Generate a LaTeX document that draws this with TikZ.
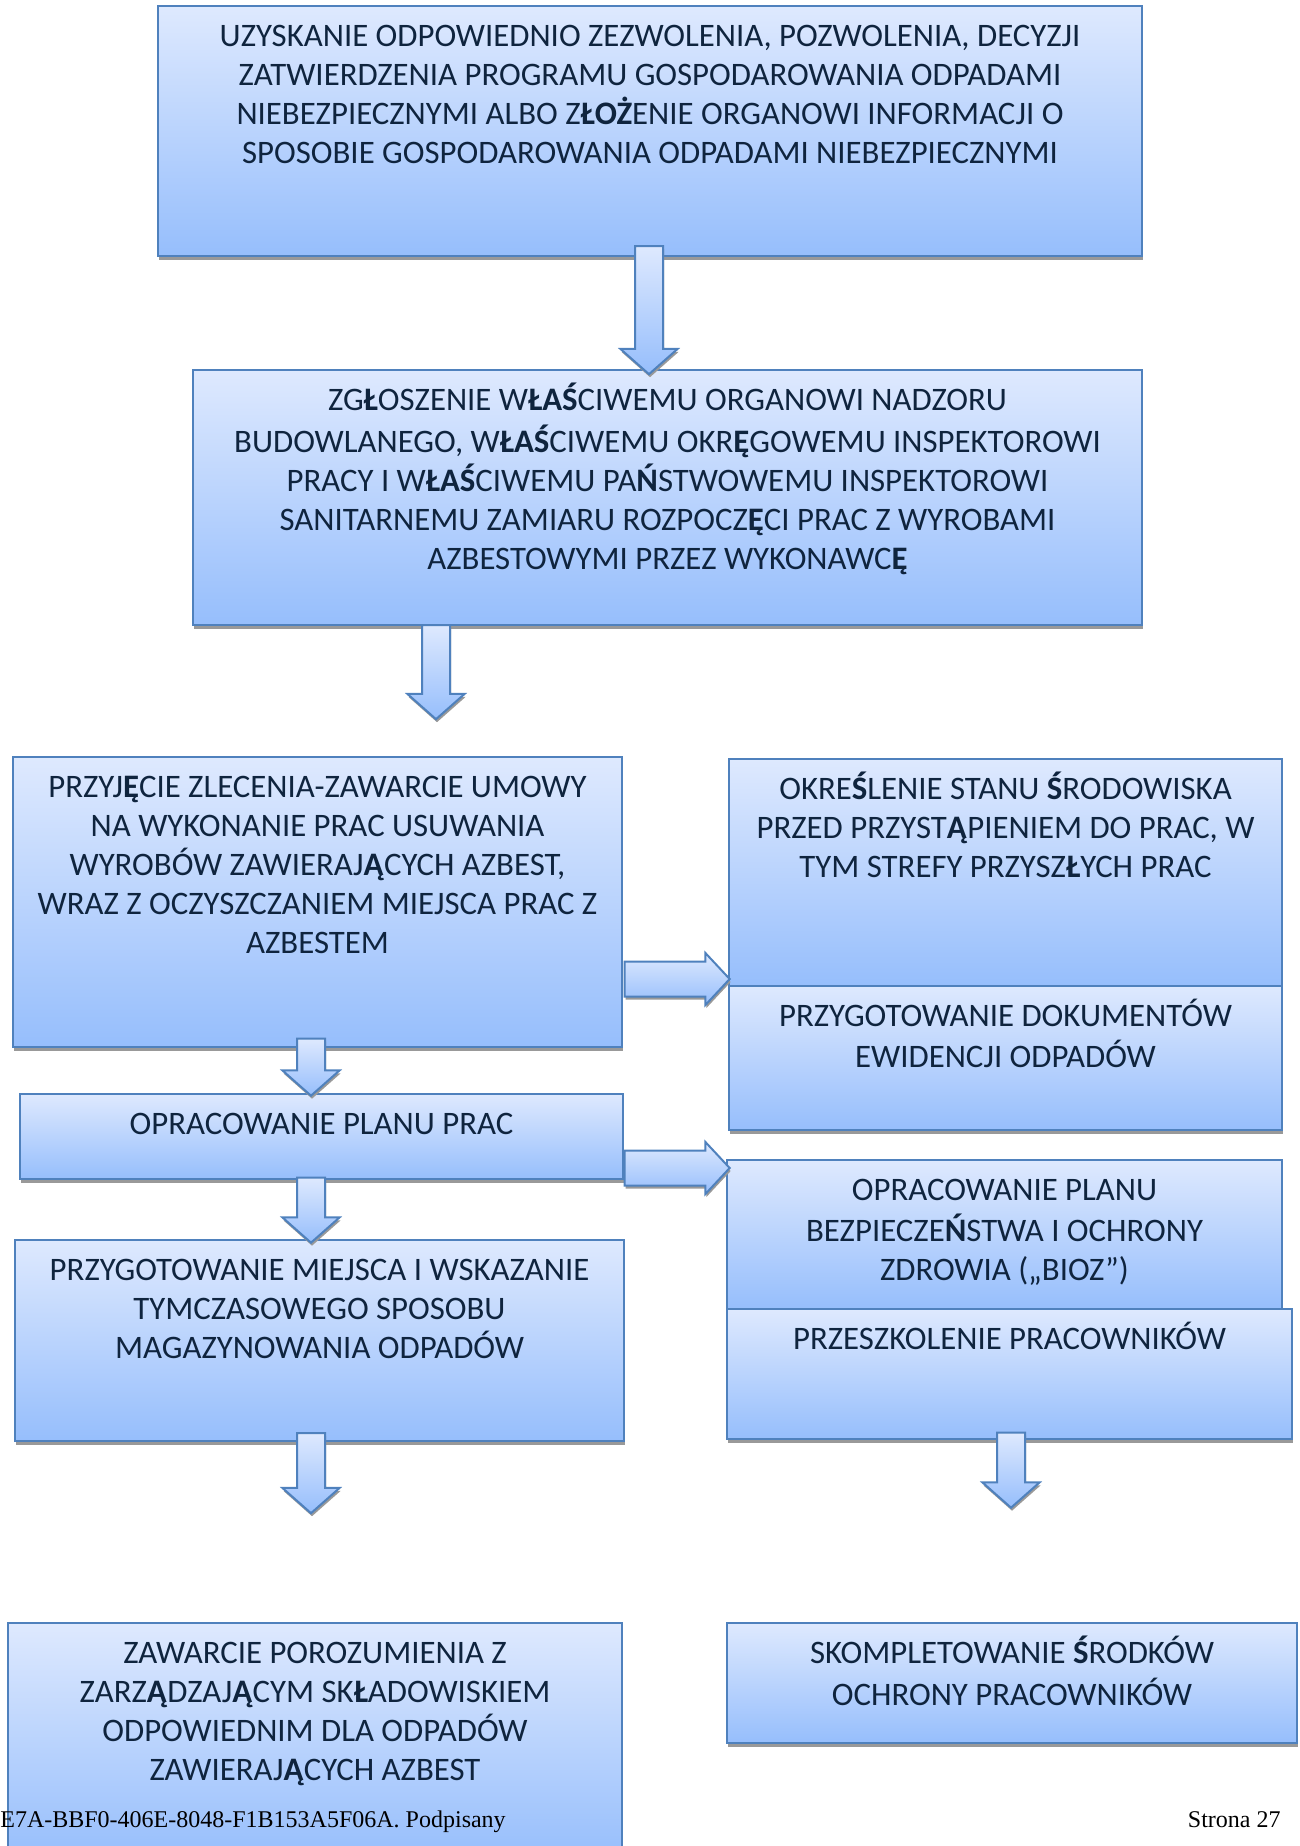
\documentclass[tikz,border=0pt]{standalone}
\usepackage{fontspec}
\setmainfont{Carlito}
\newfontfamily\footfont{Liberation Serif}
\usepackage{tikz}
\usetikzlibrary{
	positioning,
	calc,
	shapes.arrows,
	shadows
}
\definecolor{boxline}{RGB}{79,129,189}
\definecolor{boxtop}{RGB}{222,233,254}
\definecolor{boxbot}{RGB}{150,190,252}
\definecolor{ink}{RGB}{15,36,62}
\newcommand{\pb}[1]{\textbf{#1}}
\newcommand{\stagefont}{\fontsize{16.4pt}{19.5pt}\selectfont}
\tikzset{
	stage/.style={draw=boxline,line width=1pt,top color=boxtop,bottom color=boxbot,inner sep=0pt,
		drop shadow={shadow xshift=0.5pt,shadow yshift=-2pt,fill=black!40,opacity=1}},
	txt/.style={anchor=north,yshift=-7pt,inner sep=0pt,align=center,font=\stagefont,text=ink},
	darrow/.style={single arrow,shape border rotate=270,draw=boxline,line width=1pt,
		top color=boxtop,bottom color=boxbot,inner sep=6.5pt,minimum width=27.5pt,
		single arrow head extend=7.25pt,single arrow tip angle=97,single arrow head indent=0pt,
		drop shadow={shadow xshift=0.5pt,shadow yshift=-1.5pt,fill=black!40,opacity=1}},
	rarrow/.style={single arrow,draw=boxline,line width=1pt,
		top color=boxtop,bottom color=boxbot,inner sep=8.25pt,minimum width=25pt,minimum height=52.5pt,
		single arrow head extend=4.25pt,single arrow tip angle=94,single arrow head indent=0pt,
		drop shadow={shadow xshift=0.5pt,shadow yshift=-1.5pt,fill=black!40,opacity=1}},
	foot/.style={font=\footfont\fontsize{12pt}{14pt}\selectfont,inner sep=0pt}
}
\begin{document}
\begin{tikzpicture}[x=0.5pt,y=-0.5pt]
	\useasboundingbox (0,0) rectangle (1300,1846);

	\node [stage,minimum width=492pt,minimum height=125pt,
		label={[txt]north:{\strut UZYSKANIE ODPOWIEDNIO ZEZWOLENIA, POZWOLENIA, DECYZJI\\
		ZATWIERDZENIA PROGRAMU GOSPODAROWANIA ODPADAMI\\
		NIEBEZPIECZNYMI ALBO Z\pb{ŁOŻ}ENIE ORGANOWI INFORMACJI O\\
		SPOSOBIE GOSPODAROWANIA ODPADAMI NIEBEZPIECZNYMI}}] (zezw) at (650,131) {};

	\node [stage,minimum width=474.5pt,minimum height=127.5pt,
		label={[txt]north:{\strut ZG\pb{Ł}OSZENIE W\pb{ŁAŚ}CIWEMU ORGANOWI NADZORU\\
		BUDOWLANEGO, W\pb{ŁAŚ}CIWEMU OKR\pb{Ę}GOWEMU INSPEKTOROWI\\
		PRACY I W\pb{ŁAŚ}CIWEMU PA\pb{Ń}STWOWEMU INSPEKTOROWI\\
		SANITARNEMU ZAMIARU ROZPOCZ\pb{Ę}CI PRAC Z WYROBAMI\\
		AZBESTOWYMI PRZEZ WYKONAWC\pb{Ę}}}] (zglo) at (667.5,497.5) {};

	\node [stage,minimum width=304.5pt,minimum height=145pt,
		label={[txt]north:{\strut PRZYJ\pb{Ę}CIE ZLECENIA-ZAWARCIE UMOWY\\
		NA WYKONANIE PRAC USUWANIA\\
		WYROBÓW ZAWIERAJ\pb{Ą}CYCH AZBEST,\\
		WRAZ Z OCZYSZCZANIEM MIEJSCA PRAC Z\\
		AZBESTEM}}] (umowa) at (317.5,902) {};

	\node [stage,minimum width=276.5pt,minimum height=113.5pt,
		label={[txt]north:{\strut OKRE\pb{Ś}LENIE STANU \pb{Ś}RODOWISKA\\
		PRZED PRZYST\pb{Ą}PIENIEM DO PRAC, W\\
		TYM STREFY PRZYSZ\pb{Ł}YCH PRAC}}] (stan) at (1005.5,872.5) {};

	\node [stage,minimum width=276.5pt,minimum height=72pt,
		label={[txt]north:{\strut PRZYGOTOWANIE DOKUMENTÓW\\
		EWIDENCJI ODPADÓW}}] (dokum) at (1005.5,1058) {};

	\node [stage,minimum width=301.5pt,minimum height=42.5pt,
		label={[txt]north:{\strut OPRACOWANIE PLANU PRAC}}] (plan) at (321.5,1136.5) {};

	\node [stage,minimum width=304.5pt,minimum height=100.5pt,
		label={[txt]north:{\strut PRZYGOTOWANIE MIEJSCA I WSKAZANIE\\
		TYMCZASOWEGO SPOSOBU\\
		MAGAZYNOWANIA ODPADÓW}}] (miejsce) at (319.5,1340.5) {};

	\node [stage,minimum width=277.5pt,minimum height=74.5pt,
		label={[txt]north:{\strut OPRACOWANIE PLANU\\
		BEZPIECZE\pb{Ń}STWA I OCHRONY\\
		ZDROWIA („BIOZ”)}}] (bioz) at (1004.5,1234.5) {};

	\node [stage,minimum width=282.5pt,minimum height=65pt,
		label={[txt]north:{\strut PRZESZKOLENIE PRACOWNIKÓW}}] (szkol) at (1009.5,1374) {};

	\node [stage,minimum width=307pt,minimum height=118.5pt,
		label={[txt]north:{\strut ZAWARCIE POROZUMIENIA Z\\
		ZARZ\pb{Ą}DZAJ\pb{Ą}CYM SK\pb{Ł}ADOWISKIEM\\
		ODPOWIEDNIM DLA ODPADÓW\\
		ZAWIERAJ\pb{Ą}CYCH AZBEST}}] (poroz) at (315,1741.5) {};

	\node [stage,minimum width=285pt,minimum height=60pt,
		label={[txt]north:{\strut SKOMPLETOWANIE \pb{Ś}RODKÓW\\
		OCHRONY PRACOWNIKÓW}}] (srodki) at (1012,1683) {};

	\node [darrow,minimum height=64pt]   (a1) at ($(zezw.south)+(-1,47)$) {};
	\node [darrow,minimum height=47pt]   (a2) at ($(zglo.south)+(-231.5,40)$) {};
	\node [darrow,minimum height=28.5pt] (a3) at ($(umowa.south)+(-6.5,13)$) {};
	\node [darrow,minimum height=32.5pt] (a4) at ($(plan.south)+(-10.5,24)$) {};
	\node [darrow,minimum height=40pt]   (a5) at ($(miejsce.south)+(-8.5,25)$) {};
	\node [darrow,minimum height=37.5pt] (a6) at ($(szkol.south)+(1.5,24)$) {};
	\node [rarrow] (r1) at ($(umowa.east)+(46,77)$) {};
	\node [rarrow] (r2) at ($(plan.east)+(45,31.5)$) {};

	\node [foot,anchor=base west] (sig)  at (0,1827)    {E7A-BBF0-406E-8048-F1B153A5F06A. Podpisany};
	\node [foot,anchor=base east] (page) at (1281,1827) {Strona 27};
\end{tikzpicture}
\end{document}
